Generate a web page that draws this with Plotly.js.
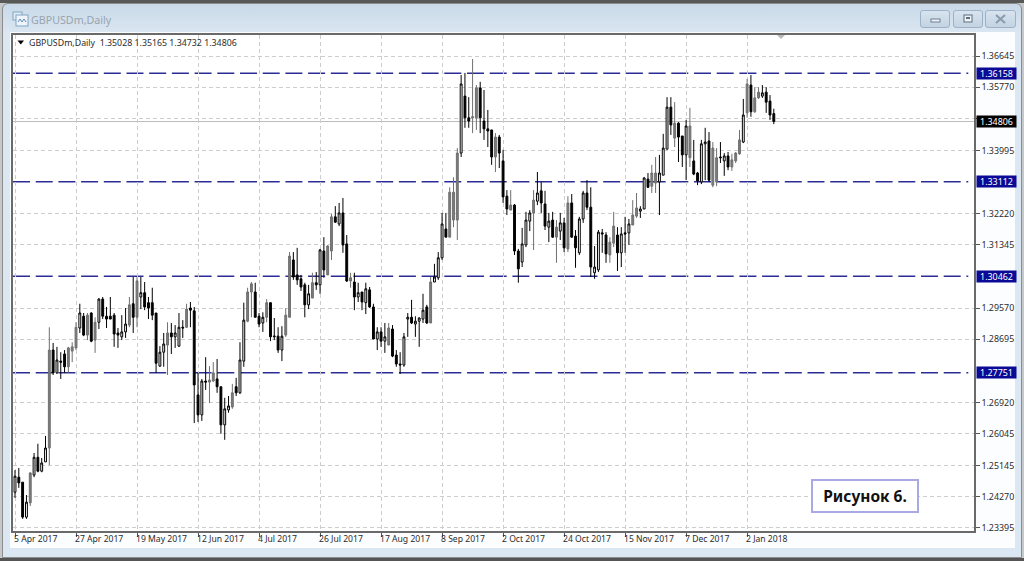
<!DOCTYPE html>
<html><head><meta charset="utf-8">
<script src="https://cdn.plot.ly/plotly-3.0.1.min.js"></script>
<style>
html,body{margin:0;padding:0;width:1024px;height:561px;overflow:hidden;background:#c6c9cc}
#topband{position:absolute;left:0;top:0;width:1024px;height:3px;background:#585858}
#botband{position:absolute;left:0;top:558px;width:1024px;height:3px;background:#555}
#win{position:absolute;left:2px;top:3px;width:1020px;height:555px;background:linear-gradient(#c9d9e8,#dbe7f2 30px,#dbe7f2);border-radius:6px 6px 0 0;border:1px solid #8c8c8c;box-sizing:border-box}
#inner{position:absolute;left:10px;top:32px;width:1005px;height:516px;background:#fcfdfe}
.btn{position:absolute;top:10px;height:18px;box-sizing:border-box;border:1px solid #9db2c6;border-radius:3px;background:linear-gradient(#d8e4ef,#c3d3e2);}
.btn svg{position:absolute;left:0;top:0}
#chart{position:absolute;left:0;top:0;width:1024px;height:561px}
#icon{position:absolute;left:12px;top:11px}
</style></head><body>
<div id="topband"></div><div id="botband"></div>
<div id="win"></div><div id="inner"></div>
<svg id="icon" width="17" height="17"><rect x="1" y="1" width="9" height="8" fill="#dfeaf3" stroke="#7fa6c6"/><rect x="4" y="4" width="12" height="11" fill="#eef4f9" stroke="#7fa6c6"/><path d="M6 11l2-3 2 3 2-3 2 3" fill="none" stroke="#5f8db3"/></svg>
<div class="btn" style="left:920px;width:30px"><svg width="28" height="16"><rect x="10" y="8" width="9" height="3" fill="#eef3f8" stroke="#6d7f90"/></svg></div>
<div class="btn" style="left:953px;width:30px"><svg width="28" height="16"><rect x="10" y="4" width="8" height="7" fill="#eef3f8" stroke="#5c6d7d"/><rect x="12" y="6" width="4" height="2" fill="#5c6d7d"/></svg></div>
<div class="btn" style="left:985px;width:31px"><svg width="29" height="16"><path d="M10 4l9 8M19 4l-9 8" stroke="#8c9cad" stroke-width="2.2"/></svg></div>
<div id="chart"></div>
<script>
const symbolTitle = "GBPUSDm,Daily";
const ohlcHeader = "GBPUSDm,Daily  1.35028 1.35165 1.34732 1.34806";
const figureLabel = "Рисунок 6.";
const dateLabels = ["5 Apr 2017","27 Apr 2017","19 May 2017","12 Jun 2017","4 Jul 2017","26 Jul 2017","17 Aug 2017","8 Sep 2017","2 Oct 2017","24 Oct 2017","15 Nov 2017","7 Dec 2017","2 Jan 2018"];
const dateBarIndex = [0,16,32,48,64,80,96,112,128,144,160,176,192];
const priceTicks = [1.36645,1.35770,1.34895,1.33995,1.32220,1.31345,1.29570,1.28695,1.26920,1.26045,1.25145,1.24270,1.23395];
const priceTickLabels = ["1.36645","1.35770","","1.33995","1.32220","1.31345","1.29570","1.28695","1.26920","1.26045","1.25145","1.24270","1.23395"];
const levels = [1.36158,1.33112,1.30462,1.27751];
const lastPrice = 1.34806;

const opens = [
1.2440,1.2482,1.2468,1.2370,1.2410,1.2488,1.2538,1.2499,1.2525,1.2564,
1.2839,1.2775,1.2808,1.2828,1.2792,1.2836,1.2845,1.2901,1.2934,1.2881,
1.2943,1.2867,1.2917,1.2982,1.2934,1.2934,1.2937,1.2887,1.2876,1.2890,
1.2909,1.2969,1.2931,1.2988,1.3000,1.2972,1.2972,1.2943,1.2794,1.2833,
1.2853,1.2887,1.2876,1.2850,1.2903,1.2903,1.2957,1.2949,1.2713,1.2657,
1.2752,1.2749,1.2752,1.2758,1.2736,1.2629,1.2671,1.2679,1.2736,1.2719,
1.2808,1.2920,1.3002,1.3002,1.2934,1.2915,1.2931,1.2972,1.2876,1.2878,
1.2839,1.2881,1.2931,1.3092,1.3050,1.3039,1.3022,1.2966,1.2985,1.3028,
1.3022,1.3117,1.3050,1.3117,1.3213,1.3193,1.3224,1.3137,1.3033,1.3030,
1.2988,1.3002,1.2972,1.3008,1.2960,1.2870,1.2890,1.2864,1.2853,1.2898,
1.2825,1.2800,1.2797,1.2926,1.2931,1.2912,1.2920,1.2926,1.2960,1.2915,
1.3030,1.3042,1.3098,1.3179,1.3156,1.3204,1.3204,1.3392,1.3552,1.3491,
1.3491,1.3491,1.3575,1.3482,1.3460,1.3457,1.3381,1.3437,1.3370,1.3271,
1.3232,1.3246,1.3117,1.3086,1.3134,1.3201,1.3224,1.3257,1.3286,1.3249,
1.3184,1.3204,1.3156,1.3173,1.3196,1.3123,1.3252,1.3159,1.3112,1.3207,
1.3280,1.3240,1.3056,1.3064,1.3168,1.3162,1.3106,1.3139,1.3162,1.3112,
1.3168,1.3168,1.3190,1.3215,1.3229,1.3235,1.3319,1.3299,1.3308,1.3311,
1.3330,1.3403,1.3521,1.3434,1.3476,1.3440,1.3387,1.3379,1.3370,1.3336,
1.3311,1.3418,1.3426,1.3302,1.3311,1.3381,1.3370,1.3384,1.3353,1.3370,
1.3390,1.3423,1.3505,1.3583,1.3508,1.3547,1.3552,1.3563,1.3538,1.35028];
const highs = [
1.2502,1.2508,1.2468,1.2432,1.2496,1.2550,1.2576,1.2536,1.2598,1.2903,
1.2859,1.2848,1.2833,1.2839,1.2848,1.2861,1.2917,1.2969,1.2943,1.2943,
1.2945,1.2931,1.2985,1.2988,1.2960,1.2988,1.2943,1.2901,1.2937,1.2957,
1.2988,1.3044,1.3044,1.3044,1.3030,1.2988,1.3014,1.2943,1.2850,1.2887,
1.2917,1.2915,1.2909,1.2943,1.2923,1.2969,1.2974,1.2960,1.2775,1.2758,
1.2819,1.2794,1.2805,1.2814,1.2736,1.2705,1.2710,1.2744,1.2761,1.2861,
1.2972,1.3014,1.3030,1.3028,1.2943,1.2945,1.2982,1.2972,1.2929,1.2903,
1.2906,1.2957,1.3114,1.3114,1.3126,1.3050,1.3028,1.3022,1.3056,1.3058,
1.3123,1.3156,1.3134,1.3221,1.3243,1.3252,1.3266,1.3162,1.3056,1.3056,
1.3028,1.3002,1.3028,1.3016,1.2969,1.2903,1.2903,1.2915,1.2915,1.2909,
1.2839,1.2833,1.2887,1.2943,1.2980,1.2934,1.2931,1.2997,1.2966,1.3044,
1.3081,1.3114,1.3224,1.3224,1.3296,1.3324,1.3406,1.3611,1.3617,1.3549,
1.3656,1.3583,1.3592,1.3569,1.3513,1.3457,1.3448,1.3443,1.3401,1.3288,
1.3288,1.3249,1.3123,1.3182,1.3227,1.3232,1.3288,1.3339,1.3311,1.3286,
1.3224,1.3227,1.3204,1.3224,1.3210,1.3271,1.3277,1.3176,1.3213,1.3286,
1.3316,1.3296,1.3131,1.3176,1.3179,1.3170,1.3156,1.3227,1.3184,1.3184,
1.3213,1.3207,1.3260,1.3280,1.3243,1.3325,1.3336,1.3359,1.3381,1.3387,
1.3446,1.3549,1.3549,1.3535,1.3479,1.3440,1.3485,1.3519,1.3429,1.3339,
1.3429,1.3463,1.3451,1.3423,1.3406,1.3423,1.3392,1.3395,1.3390,1.3395,
1.3457,1.3544,1.3600,1.3611,1.3577,1.3577,1.3583,1.3577,1.3555,1.35165];
const lows = [
1.2424,1.2452,1.2365,1.2365,1.2401,1.2482,1.2496,1.2496,1.2525,1.2516,
1.2769,1.2772,1.2758,1.2775,1.2775,1.2805,1.2839,1.2887,1.2878,1.2867,
1.2861,1.2831,1.2898,1.2926,1.2901,1.2926,1.2848,1.2845,1.2867,1.2873,
1.2903,1.2887,1.2903,1.2954,1.2951,1.2926,1.2923,1.2775,1.2792,1.2792,
1.2769,1.2828,1.2845,1.2848,1.2873,1.2901,1.2903,1.2634,1.2637,1.2640,
1.2727,1.2690,1.2749,1.2719,1.2604,1.2587,1.2663,1.2674,1.2710,1.2716,
1.2792,1.2917,1.2931,1.2931,1.2903,1.2890,1.2917,1.2864,1.2867,1.2831,
1.2808,1.2876,1.2931,1.3036,1.3022,1.3005,1.2931,1.2954,1.2985,1.3008,
1.2997,1.3042,1.3050,1.3092,1.3196,1.3187,1.3112,1.3030,1.3014,1.2951,
1.2974,1.2951,1.2940,1.2957,1.2870,1.2839,1.2848,1.2831,1.2853,1.2819,
1.2792,1.2772,1.2792,1.2876,1.2912,1.2876,1.2848,1.2915,1.2912,1.2915,
1.3030,1.3036,1.3092,1.3156,1.3156,1.3184,1.3148,1.3381,1.3463,1.3463,
1.3448,1.3457,1.3448,1.3429,1.3409,1.3359,1.3339,1.3350,1.3252,1.3218,
1.3232,1.3106,1.3028,1.3072,1.3128,1.3173,1.3120,1.3246,1.3224,1.3176,
1.3142,1.3154,1.3084,1.3148,1.3114,1.3114,1.3154,1.3070,1.3106,1.3196,
1.3232,1.3044,1.3039,1.3058,1.3112,1.3084,1.3084,1.3128,1.3061,1.3072,
1.3112,1.3134,1.3190,1.3210,1.3210,1.3235,1.3294,1.3280,1.3280,1.3218,
1.3330,1.3403,1.3443,1.3409,1.3367,1.3353,1.3316,1.3353,1.3330,1.3302,
1.3305,1.3316,1.3311,1.3296,1.3299,1.3364,1.3328,1.3344,1.3342,1.3364,
1.3387,1.3420,1.3491,1.3494,1.3505,1.3544,1.3547,1.3505,1.3485,1.34732];
const closes = [
1.2485,1.2466,1.2370,1.2412,1.2494,1.2538,1.2499,1.2522,1.2564,1.2839,
1.2775,1.2811,1.2805,1.2792,1.2845,1.2848,1.2903,1.2943,1.2881,1.2937,
1.2864,1.2917,1.2982,1.2934,1.2926,1.2926,1.2884,1.2881,1.2890,1.2912,
1.2966,1.2931,1.3033,1.3000,1.2960,1.2957,1.2937,1.2802,1.2833,1.2856,
1.2887,1.2876,1.2887,1.2903,1.2901,1.2954,1.2951,1.2741,1.2657,1.2752,
1.2749,1.2755,1.2775,1.2736,1.2629,1.2674,1.2682,1.2719,1.2719,1.2811,
1.2923,1.3002,1.3025,1.2931,1.2912,1.2931,1.2972,1.2876,1.2878,1.2839,
1.2878,1.2937,1.3103,1.3044,1.3036,1.3016,1.2966,1.2997,1.3028,1.3022,
1.3120,1.3064,1.3131,1.3213,1.3198,1.3224,1.3134,1.3033,1.3042,1.2988,
1.3000,1.2974,1.3011,1.2960,1.2870,1.2890,1.2864,1.2876,1.2901,1.2822,
1.2800,1.2797,1.2876,1.2931,1.2915,1.2920,1.2929,1.2951,1.2915,1.3030,
1.3044,1.3098,1.3193,1.3156,1.3282,1.3282,1.3392,1.3586,1.3491,1.3482,
1.3494,1.3575,1.3491,1.3460,1.3454,1.3381,1.3437,1.3392,1.3269,1.3235,
1.3246,1.3117,1.3067,1.3137,1.3204,1.3224,1.3260,1.3280,1.3252,1.3187,
1.3201,1.3156,1.3184,1.3196,1.3126,1.3252,1.3156,1.3126,1.3207,1.3280,
1.3240,1.3072,1.3072,1.3170,1.3165,1.3109,1.3142,1.3187,1.3112,1.3165,
1.3165,1.3193,1.3218,1.3238,1.3235,1.3322,1.3296,1.3336,1.3336,1.3336,
1.3406,1.3521,1.3471,1.3476,1.3437,1.3387,1.3468,1.3468,1.3333,1.3314,
1.3418,1.3423,1.3316,1.3406,1.3379,1.3379,1.3384,1.3353,1.3373,1.3392,
1.3429,1.3499,1.3586,1.3508,1.3547,1.3563,1.3561,1.3535,1.3499,1.34806];
// bars that the picture shows with a mid-grey body
const greyBars = [4,9,14,15,16,19,21,30,32,40,45,51,52,57,61,62,66,71,72,78,82,83,88,98,109,114,115,116,120,121,126,130,136,142,145,156,157,162,163,167,168,173,177,183,184,188,189,190,192,194,195];

const W=1024,H=561,M={l:13,r:50,t:35,b:30};
const fx=p=>(p-M.l)/(W-M.l-M.r), fy=p=>1-(p-M.t)/(H-M.t-M.b);
const yRange=[1.23310,1.37235], xRange=[-0.525,251.5];
const idx=opens.map((_,i)=>i), grey=new Set(greyBars);
function sub(keep){const ii=idx.filter(keep);return {x:ii,open:ii.map(i=>opens[i]),high:ii.map(i=>highs[i]),low:ii.map(i=>lows[i]),close:ii.map(i=>closes[i])};}
const side=(line,fill)=>({line:{color:line,width:1},fillcolor:fill});
const traces=[
 Object.assign(sub(i=>!grey.has(i)),{type:'candlestick',increasing:side('#000','#fff'),decreasing:side('#000','#000'),hoverinfo:'skip',showlegend:false}),
 Object.assign(sub(i=>grey.has(i)),{type:'candlestick',increasing:side('#6f6f6f','#7d7d7d'),decreasing:side('#6f6f6f','#7d7d7d'),hoverinfo:'skip',showlegend:false})
];
const shapes=[
 {type:'line',xref:'paper',yref:'y',x0:0,x1:1,y0:lastPrice,y1:lastPrice,layer:'below',line:{color:'#bcbcbc',width:1}}
];
levels.forEach(v=>shapes.push({type:'line',xref:'x',yref:'y',x0:xRange[0],x1:250,y0:v,y1:v,layer:'below',line:{color:'#2c2c96',width:1.5,dash:'17px,5.7px'}}));
shapes.push({type:'path',xref:'paper',yref:'paper',path:`M${fx(17.5)} ${fy(40.5)} L${fx(24)} ${fy(40.5)} L${fx(20.8)} ${fy(44.5)} Z`,fillcolor:'#000',line:{width:0}});
shapes.push({type:'path',xref:'paper',yref:'paper',path:`M${fx(777)} ${fy(35)} L${fx(785)} ${fy(35)} L${fx(781)} ${fy(39)} Z`,fillcolor:'#b9b9b9',line:{width:0}});
const tickFont={family:'"Noto Sans",sans-serif',size:8.9,color:'#2c2c2c'};
const ann=[
 {xref:'paper',yref:'paper',x:fx(28.5),y:fy(19.5),xanchor:'left',yanchor:'middle',text:symbolTitle,showarrow:false,font:{family:'"Noto Sans",sans-serif',size:10.7,color:'#98a4ae'}},
 {xref:'paper',yref:'paper',x:fx(27),y:fy(42.5),xanchor:'left',yanchor:'middle',text:ohlcHeader.replace(/  /g,'&nbsp;&nbsp;'),showarrow:false,font:{family:tickFont.family,size:8.8,color:'#2c2c2c'}},
 {xref:'paper',yref:'paper',x:fx(864.5),y:fy(495.5),xanchor:'center',yanchor:'middle',text:'<b>'+figureLabel+'</b>',width:102,height:28,bgcolor:'#fff',bordercolor:'#a9a9e6',borderwidth:2,showarrow:false,font:{family:'"Noto Sans",sans-serif',size:15.5,color:'#111'}}
];
dateLabels.forEach((t,k)=>ann.push({xref:'x',yref:'paper',x:dateBarIndex[k],y:fy(538.5),xanchor:'left',yanchor:'middle',xshift:-3,text:t,showarrow:false,font:{family:tickFont.family,size:8.6,color:'#2c2c2c'}}));
levels.concat([lastPrice]).forEach(v=>ann.push({xref:'paper',yref:'y',x:fx(996.5),y:v,xanchor:'center',yanchor:'middle',width:39,height:11,borderpad:0,text:v.toFixed(5),bgcolor:v===lastPrice?'#000':'#0a0a96',showarrow:false,font:{family:tickFont.family,size:8.9,color:'#fff'}}));
const layout={width:W,height:H,margin:{l:M.l,r:M.r,t:M.t,b:M.b,pad:0},paper_bgcolor:'rgba(0,0,0,0)',plot_bgcolor:'#fff',showlegend:false,
 xaxis:{type:'linear',range:xRange,rangeslider:{visible:false},fixedrange:true,tickmode:'array',tickvals:dateBarIndex,ticktext:dateLabels,showticklabels:false,ticks:'outside',ticklen:4,tickcolor:'#555',showgrid:true,griddash:'4px,3px',gridcolor:'#cdcdcd',gridwidth:1,zeroline:false,showline:true,mirror:true,linecolor:'#6a6a6a',linewidth:1.6},
 yaxis:{side:'right',range:yRange,fixedrange:true,tickmode:'array',tickvals:priceTicks,ticktext:priceTickLabels,tickfont:tickFont,ticks:'outside',ticklen:4,tickcolor:'#555',showgrid:true,griddash:'4px,3px',gridcolor:'#cdcdcd',gridwidth:1,zeroline:false,showline:true,mirror:true,linecolor:'#6a6a6a',linewidth:1.6,automargin:false},
 shapes:shapes,annotations:ann};
Plotly.newPlot('chart',traces,layout,{displayModeBar:false,staticPlot:true});
</script>
</body></html>
